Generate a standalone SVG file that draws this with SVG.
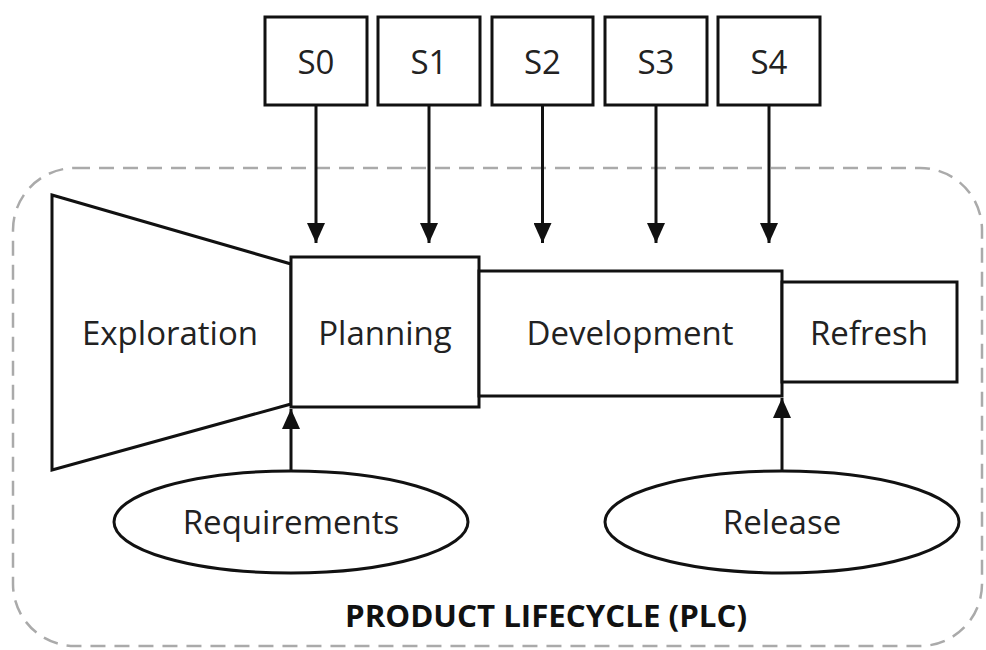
<svg xmlns="http://www.w3.org/2000/svg" width="986" height="650" viewBox="0 0 986 650">
  <style>
    .box { fill: #fff; stroke: #111; stroke-width: 3; }
    .lbl { font-family: "Open Sans", "Liberation Sans", sans-serif; font-size: 33px; fill: #222; text-anchor: middle; }
    .title { font-family: "Open Sans", "Liberation Sans", sans-serif; font-size: 30px; font-weight: bold; fill: #111; text-anchor: middle; }
    .wire { stroke: #111; stroke-width: 3; fill: none; }
    .frame { fill: none; stroke: #aaa; stroke-width: 2.5; stroke-dasharray: 15 9; }
  </style>
  <defs>
    <marker id="arrow" viewBox="0 0 20 18" refX="20" refY="9" markerWidth="20" markerHeight="18" markerUnits="userSpaceOnUse" orient="auto">
      <path d="M0,0 L20,9 L0,18 Z" fill="#111"/>
    </marker>
  </defs>

  <!-- lifecycle frame -->
  <g id="plc-frame">
    <rect class="frame" x="13" y="168" width="969" height="478" rx="62" ry="62"/>
    <text class="title" x="546" y="627" textLength="402" lengthAdjust="spacingAndGlyphs">PRODUCT LIFECYCLE (PLC)</text>
  </g>

  <!-- stage gates -->
  <g id="s0"><rect class="box" x="265" y="17" width="102" height="88"/><text class="lbl" x="316" y="74">S0</text></g>
  <g id="s1"><rect class="box" x="378" y="17" width="102" height="88"/><text class="lbl" x="429" y="74">S1</text></g>
  <g id="s2"><rect class="box" x="492" y="17" width="101" height="88"/><text class="lbl" x="542.5" y="74">S2</text></g>
  <g id="s3"><rect class="box" x="605" y="17" width="102" height="88"/><text class="lbl" x="656" y="74">S3</text></g>
  <g id="s4"><rect class="box" x="718" y="17" width="102" height="88"/><text class="lbl" x="769" y="74">S4</text></g>

  <!-- phases -->
  <g id="exploration">
    <polygon class="box" points="52,195 291,264 291,404 52,470"/>
    <text class="lbl" x="170" y="345">Exploration</text>
  </g>
  <g id="planning">
    <rect class="box" x="291" y="257" width="188" height="150"/>
    <text class="lbl" x="385" y="345">Planning</text>
  </g>
  <g id="development">
    <rect class="box" x="479" y="271" width="303" height="125"/>
    <text class="lbl" x="630" y="345">Development</text>
  </g>
  <g id="refresh">
    <rect class="box" x="782" y="282" width="175" height="100"/>
    <text class="lbl" x="869" y="345">Refresh</text>
  </g>

  <!-- inputs -->
  <g id="requirements">
    <ellipse class="box" cx="291" cy="522" rx="177" ry="51"/>
    <text class="lbl" x="291" y="534">Requirements</text>
  </g>
  <g id="release">
    <ellipse class="box" cx="782" cy="522" rx="177" ry="51"/>
    <text class="lbl" x="782" y="534">Release</text>
  </g>

  <!-- connectors -->
  <g id="connectors">
    <line class="wire" x1="316" y1="105" x2="316" y2="243" marker-end="url(#arrow)"/>
    <line class="wire" x1="429" y1="105" x2="429" y2="243" marker-end="url(#arrow)"/>
    <line class="wire" x1="542.5" y1="105" x2="542.5" y2="243" marker-end="url(#arrow)"/>
    <line class="wire" x1="656" y1="105" x2="656" y2="243" marker-end="url(#arrow)"/>
    <line class="wire" x1="769" y1="105" x2="769" y2="243" marker-end="url(#arrow)"/>
    <line class="wire" x1="291" y1="471" x2="291" y2="409" marker-end="url(#arrow)"/>
    <line class="wire" x1="782" y1="471" x2="782" y2="398" marker-end="url(#arrow)"/>
  </g>
</svg>
